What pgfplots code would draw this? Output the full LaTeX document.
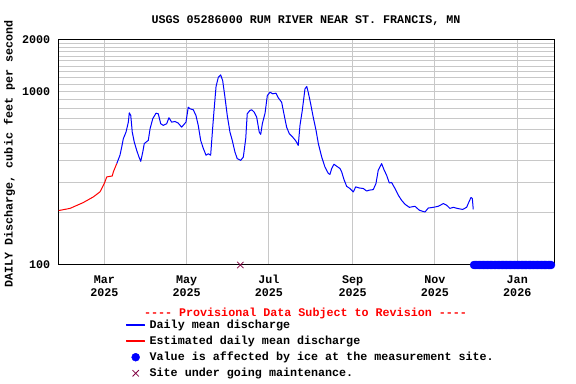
\documentclass[border=0pt]{standalone}
\usepackage{fontspec}
\setmonofont{Liberation Mono}
\usepackage{pgfplots}
\pgfplotsset{compat=1.18}
\definecolor{gridgray}{RGB}{200,200,200}
\definecolor{maint}{RGB}{128,0,64}
\pgfplotsset{
  blueleg/.style={legend image code/.code={\fill[blue] (0bp,-0.6bp) rectangle (18bp,0.6bp);}},
  redleg/.style={legend image code/.code={\fill[red] (0bp,-0.6bp) rectangle (18bp,0.6bp);}},
  markleg/.style={legend image code/.code={\draw[##1] plot coordinates {(9bp,0bp)};}},
}
\newcommand{\chartfont}{\fontsize{11.7bp}{13bp}\selectfont\ttfamily\bfseries}
\begin{document}
\begin{tikzpicture}
\begin{axis}[
  at={(0,0)}, anchor=south west,
  scale only axis, width=495.8bp, height=225.7bp,
  ymode=log, xmin=25.2, xmax=392.6, ymin=100, ymax=2000,
  clip=false,
  axis line style={black, line width=1bp},
  font=\chartfont,
  /pgf/number format/assume math mode=true,
  xtick={59,120,181,243,304,365},
  xticklabels={Mar\\2025,May\\2025,Jul\\2025,Sep\\2025,Nov\\2025,Jan\\2026},
  xticklabel style={align=center, yshift=-7bp},
  yticklabel style={xshift=-5bp},
  ytick={100,1000,2000}, yticklabels={100,1000,2000},
  minor ytick={200,300,400,500,600,700,800,900,1100,1200,1300,1400,1500,1600,1700,1800,1900},
  xmajorgrids, ymajorgrids, yminorgrids,
  major grid style={gridgray, line width=1bp},
  minor grid style={gridgray, line width=1bp},
  tick style={draw=none},
  ylabel={DAILY Discharge, cubic feet per second},
  ylabel style={at={(axis description cs:-0.0992,0.4918)}, anchor=center},
  legend style={at={(axis description cs:0.1357,-0.2350)}, anchor=north west,
    draw=none, fill=none, inner sep=0pt, font=\chartfont, row sep=2bp, column sep=2.5bp},
  legend cell align=left,
]
\addplot[blue, no marks, line width=1bp, line join=round, blueleg] coordinates {
(68.2,384) (70.6,429) (71.9,479) (73.1,535) (75.1,584) (76.8,666) (77.5,754) (78.6,728) (79.7,584) (81.2,511) (83.0,458) (84.7,419) (86.0,396) (87.5,448) (88.6,501) (91.6,523) (92.9,610) (94.9,697) (97.3,750) (99.0,744) (100.8,652) (102.7,638) (105.2,652) (106.9,706) (108.9,666) (111.4,672) (113.8,657) (116.3,623) (119.5,666) (121.2,812) (122.5,795) (124.9,785) (126.9,728) (128.6,638) (130.4,523) (132.4,469) (134.4,429) (136.1,438) (137.8,429) (139.3,617) (140.3,778) (141.8,1069) (143.5,1208) (145.2,1247) (146.7,1157) (148.4,927) (150.1,728) (152.1,584) (153.8,523) (155.8,448) (157.5,410) (160.1,401) (162.0,419) (163.8,535) (164.9,744) (166.9,778) (168.2,785) (170.1,760) (171.9,712) (173.8,584) (174.9,566) (176.1,652) (178.1,750) (179.8,948) (181.8,991) (183.8,970) (186.2,978) (187.9,920) (190.4,868) (192.1,744) (194.1,623) (196.1,571) (198.6,546) (201.0,518) (202.7,489) (204.0,638) (205.7,778) (207.7,1036) (209.0,1069) (210.1,991) (211.9,850) (213.8,712) (215.9,597) (217.6,501) (220.1,419) (222.5,367) (225.0,337) (226.2,333) (227.5,360) (229.2,381) (231.2,371) (233.6,360) (234.9,344) (236.6,311) (238.6,284) (241.0,276) (243.5,264) (245.3,282) (247.9,278) (250.9,276) (253.4,267) (255.3,270) (258.3,272) (260.3,295) (262.0,352) (264.5,384) (266.2,355) (268.2,329) (270.2,297) (271.9,299) (274.4,276) (276.8,253) (279.3,236) (281.8,224) (285.0,215) (289.2,218) (292.4,207) (296.6,202) (299.1,213) (302.8,215) (306.5,218) (310.2,226) (312.7,221) (315.1,212) (317.6,215) (320.5,212) (324.5,209) (327.5,215) (329.2,231) (330.7,245) (331.7,242) (332.4,209)
};
\addlegendentry{Daily mean discharge}
\addplot[red, no marks, line width=1bp, line join=round, redleg] coordinates {
(25.2,206) (33.6,212) (43.4,229) (50.9,247) (55.8,264) (59.0,295) (60.8,322) (64.9,326) (65.7,344) (68.2,384)
};
\addlegendentry{Estimated daily mean discharge}
\addplot[only marks, mark=*, mark size=4bp, blue, markleg] coordinates {
(333,100) (334,100) (335,100) (336,100) (337,100) (338,100) (339,100) (340,100) (341,100) (342,100) (343,100) (344,100) (345,100) (346,100) (347,100) (348,100) (349,100) (350,100) (351,100) (352,100) (353,100) (354,100) (355,100) (356,100) (357,100) (358,100) (359,100) (360,100) (361,100) (362,100) (363,100) (364,100) (365,100) (366,100) (367,100) (368,100) (369,100) (370,100) (371,100) (372,100) (373,100) (374,100) (375,100) (376,100) (377,100) (378,100) (379,100) (380,100) (381,100) (382,100) (383,100) (384,100) (385,100) (386,100) (387,100) (388,100) (389,100) (390,100)
};
\addlegendentry{Value is affected by ice at the measurement site.}
\addplot[only marks, mark=x, mark size=4.5bp, maint, line width=0.8bp, markleg] coordinates {
(159.8,100)
};
\addlegendentry{Site under going maintenance.}
\node[font=\chartfont, anchor=center] at (axis description cs:0.4988,1.081) {USGS 05286000 RUM RIVER NEAR ST. FRANCIS, MN};
\node[red, font=\chartfont, anchor=center] at (axis description cs:0.4978,-0.2127) {---- Provisional Data Subject to Revision ----};
\end{axis}
\pgfresetboundingbox
\useasboundingbox (-58.7bp,-119bp) rectangle (517.3bp,265bp);
\end{tikzpicture}
\end{document}
